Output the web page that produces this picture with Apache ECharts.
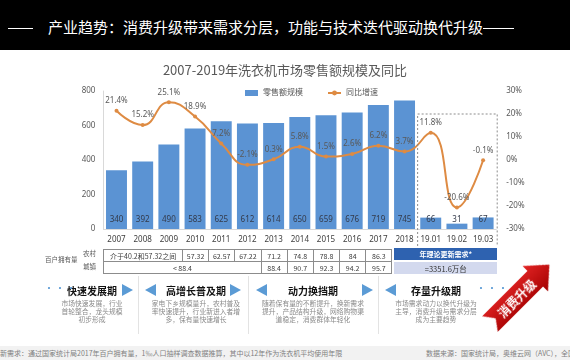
<!DOCTYPE html>
<html><head><meta charset="utf-8">
<script src="https://cdn.jsdelivr.net/npm/echarts@6/dist/echarts.min.js"></script>
<style>
html,body{margin:0;padding:0}
body{width:570px;height:360px;overflow:hidden;background:#fff;position:relative;font-family:'Noto Sans CJK SC','Noto Sans',sans-serif}
#chart{position:absolute;left:0;top:0;width:570px;height:360px}
.abs{position:absolute;white-space:nowrap}
#hdr{left:0;top:0;width:570px;height:50px;background:#000}
#hdr .t{left:48px;top:17px;font-size:15px;line-height:20px;color:#fff}
.hl{height:1px;background:#fff;top:28px}
.cell{position:absolute;box-sizing:border-box;border:1px solid #8c8c8c;font-size:7px;color:#404040;text-align:center;display:flex;align-items:center;justify-content:center}
.ptitle{font-size:10px;font-weight:bold;color:#111;text-align:center}
.pdesc{font-size:6.8px;line-height:7.8px;color:#8a8a8a;text-align:center;white-space:pre}
.tri-r{width:0;height:0;border-top:6.5px solid transparent;border-bottom:6.5px solid transparent;border-left:11px solid #5B9BD5}
.tri-l{width:0;height:0;border-top:6.5px solid transparent;border-bottom:6.5px solid transparent;border-right:11px solid #5B9BD5}
.div{width:1px;background:#e3e3e3;top:276px;height:58px}
</style></head>
<body>
<div id="chart"></div>
<div id="overlay"></div>
<script>
// ---------- data ----------
const categories = ['2007','2008','2009','2010','2011','2012','2013','2014','2015','2016','2017','2018','19.01','19.02','19.03'];
const retailSales = [340,392,490,583,625,612,614,650,659,676,719,745,66,31,67];
const yoyGrowth = [21.4,15.2,25.1,18.9,7.2,-2.1,0.3,5.8,1.5,2.6,6.2,3.7,11.8,-20.6,-0.1];
const leftTicks = [0,200,400,600,800];
const rightTicks = [-30,-20,-10,0,10,20,30];
const ruralOwnership = ['介于40.2和57.32之间','57.32','62.57','67.22','71.2','74.8','78.8','84','86.3'];
const ruralSpans = [3,1,1,1,1,1,1,1,1];
const urbanOwnership = ['< 88.4','88.4','90.7','92.3','94.2','95.7'];
const urbanSpans = [6,1,1,1,1,1];
const updateDemandTitle = '年理论更新需求*';
const updateDemandValue = '=3351.6万台';
const phases = [
  {name:'快速发展期', desc:'市场快速发展，行业\n首轮整合，龙头规模\n初步形成'},
  {name:'高增长普及期', desc:'家电下乡规模量升，农村普及\n率快速提升，行业新进入者增\n多，保有量快速增长'},
  {name:'动力换挡期', desc:'随着保有量的不断提升，换新需求\n提升，产品结构升级，网络购物渠\n道稳定，消费群体年轻化'},
  {name:'存量升级期', desc:'市场需求动力以换代升级为\n主导，消费升级与需求分层\n成为主要趋势'}
];

const chart = echarts.init(document.getElementById('chart'), null, {renderer:'canvas'});
const FONT = "'Noto Sans','Noto Sans CJK SC',sans-serif";
chart.setOption({
  animation:false,
  textStyle:{fontFamily:FONT},
  title:{text:'2007-2019年洗衣机市场零售额规模及同比', left:'center', top:64, padding:0,
    textStyle:{fontSize:13, fontWeight:'normal', color:'#595959', fontFamily:"'Noto Sans CJK SC',sans-serif"}},
  legend:{left:245, top:89, padding:0, itemWidth:13, itemHeight:6, itemGap:24,
    textStyle:{fontSize:8, color:'#595959'},
    data:[{name:'零售额规模', icon:'rect'},{name:'同比增速'}]},
  grid:{left:103.4, right:73.8, top:91, bottom:131},
  xAxis:{type:'category', data:categories, axisTick:{show:false},
    axisLine:{lineStyle:{color:'#d9d9d9'}},
    axisLabel:{fontSize:8, color:'#404040', margin:7, interval:0}},
  yAxis:[
    {type:'value', min:leftTicks[0], max:leftTicks[leftTicks.length-1], interval:leftTicks[1]-leftTicks[0],
     splitLine:{show:false}, axisTick:{show:false}, axisLine:{show:true, lineStyle:{color:'#d9d9d9'}},
     axisLabel:{fontSize:8, color:'#595959', margin:8}},
    {type:'value', min:rightTicks[0], max:rightTicks[rightTicks.length-1], interval:rightTicks[1]-rightTicks[0],
     splitLine:{show:false}, axisTick:{show:false}, axisLine:{show:false},
     axisLabel:{formatter:'{value}%', fontSize:8, color:'#595959', margin:10}}
  ],
  series:[
    {name:'零售额规模', type:'bar', data:retailSales, barCategoryGap:'20%',
     itemStyle:{color:'#5B93D3'},
     label:{show:true, position:'insideBottom', distance:5, fontSize:8, color:'#333a4a'}},
    {name:'同比增速', type:'line', yAxisIndex:1, data:yoyGrowth, smooth:0.5,
     symbol:'circle', symbolSize:4, z:5,
     lineStyle:{width:2, color:'#DE8B43'}, itemStyle:{color:'#DE8B43'},
     label:{show:true, position:'top', distance:4, fontSize:8, color:'#595959', formatter:p=>p.value+'%'}}
  ]
});

// dotted box around 2019 monthly data
const px = c => chart.convertToPixel({xAxisIndex:0}, c);
const band = px(categories[1]) - px(categories[0]);
const xl = px('19.01') - band/2;
const xr = px('19.03') + band/2 + 1;
const yt = chart.convertToPixel({yAxisIndex:1}, 20);
chart.setOption({graphic:[{type:'polyline', z:100,
  shape:{points:[[xl,246],[xl,yt],[xr,yt],[xr,246]]},
  style:{stroke:'#8c8c8c', lineWidth:1, lineDash:[2,2], fill:null}}]});

// ---------- overlay (header, table, phases, footer) ----------
const ov = document.getElementById('overlay');
function add(html){ ov.insertAdjacentHTML('beforeend', html); }
add('<div class="abs" id="hdr"><div class="abs t">产业趋势：消费升级带来需求分层，功能与技术迭代驱动换代升级</div><div class="abs hl" style="left:8px;width:25px"></div><div class="abs hl" style="left:483px;width:31px"></div></div>');

// table
const edge = k => px(categories[0]) - band/2 + band*k;
add('<div class="abs" style="left:45px;top:254px;font-size:6.5px;color:#595959">百户拥有量</div>');
add('<div class="abs" style="left:83px;top:248px;font-size:6.5px;color:#595959">农村</div>');
add('<div class="abs" style="left:83px;top:261px;font-size:6.5px;color:#595959">城镇</div>');
function row(vals, spans, top, h){
  let k=0;
  vals.forEach((v,i)=>{
    const x0=edge(k), x1=edge(k+spans[i]);
    add(`<div class="cell" style="left:${x0}px;top:${top}px;width:${x1-x0+1}px;height:${h}px">${v.replace('<','&lt;')}</div>`);
    k+=spans[i];
  });
}
row(ruralOwnership, ruralSpans, 249, 13);
row(urbanOwnership, urbanSpans, 261, 13);
const bx0 = edge(11)+3, bx1 = xr;
add(`<div class="cell" style="left:${bx0}px;top:248px;width:${bx1-bx0}px;height:12px;border:none;background:#2E62B0;color:#fff;font-weight:bold">${updateDemandTitle}</div>`);
add(`<div class="cell" style="left:${bx0}px;top:262px;width:${bx1-bx0}px;height:12px;border:none;background:#D3D9EE;color:#333;font-size:7.5px">${updateDemandValue}</div>`);

// phases
const pc = [92,196,313,436];
phases.forEach((p,i)=>{
  add(`<div class="abs ptitle" style="left:${pc[i]-50}px;width:100px;top:283px">${p.name}</div>`);
  add(`<div class="abs pdesc" style="left:${pc[i]-60}px;width:120px;top:300px">${p.desc}</div>`);
});
add('<div class="abs" style="left:44px;top:280px;font-size:10px;color:#5B9BD5;letter-spacing:1px">···</div>');
add('<div class="abs" style="left:476px;top:280px;font-size:10px;color:#5B9BD5;letter-spacing:1px">···</div>');
[122,230,362].forEach(x=>add(`<div class="abs tri-r" style="left:${x}px;top:284px"></div>`));
[145,256,385].forEach(x=>add(`<div class="abs tri-l" style="left:${x}px;top:284px"></div>`));
[138,248,378].forEach(x=>add(`<div class="abs div" style="left:${x}px"></div>`));

// footer
add('<div class="abs" style="left:0;top:346px;width:570px;height:14px;background:#f2f2f2"></div>');
add('<div class="abs" style="left:0;top:348px;font-size:7px;color:#7f7f7f">新需求：通过国家统计局2017年百户拥有量，1‰人口抽样调查数据推算，其中以12年作为洗衣机平均使用年限</div>');
add('<div class="abs" style="left:426px;top:348px;font-size:7px;color:#7f7f7f">数据来源：国家统计局，奥维云网（AVC），全国家用电器工业信息中心</div>');

// red arrow
add(`<svg class="abs" style="left:0;top:0" width="570" height="360">
<defs><linearGradient id="rg" x1="0" y1="0" x2="0" y2="1"><stop offset="0" stop-color="#e32424"/><stop offset="1" stop-color="#a30000"/></linearGradient></defs>
<g transform="translate(490,324) rotate(-45)">
<polygon points="0,-11 64,-11 64,-18 84,0 64,18 64,11 0,11 8,0" fill="url(#rg)"/>
<text x="37" y="0.5" font-size="12" font-weight="bold" fill="#fff" text-anchor="middle" dominant-baseline="central" font-family="Noto Sans CJK SC">消费升级</text>
</g></svg>`);
</script>
</body></html>
